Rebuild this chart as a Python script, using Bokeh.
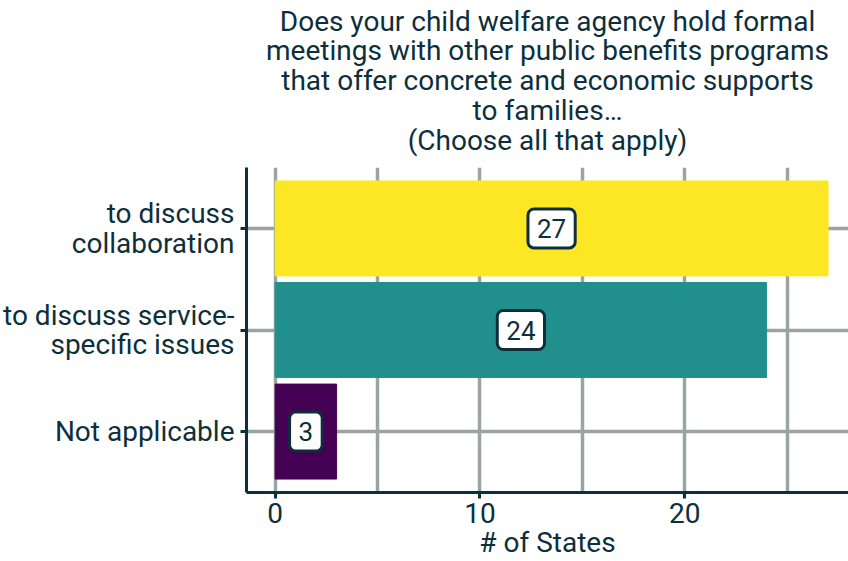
from bokeh.plotting import figure
from bokeh.layouts import column
from bokeh.models import ColumnDataSource, SingleIntervalTicker, Range1d, FactorRange
from bokeh.core.properties import value
from bokeh.embed import file_html
from bokeh.resources import INLINE

categories = ["Not applicable", "to discuss service-\nspecific issues", "to discuss\ncollaboration"]
counts = [3, 24, 27]
bar_colors = ["#440154", "#21908d", "#fde725"]
title_text = ("Does your child welfare agency hold formal\n"
              "meetings with other public benefits programs\n"
              "that offer concrete and economic supports\n"
              "to families…\n"
              "(Choose all that apply)")
x_label = "# of States"

DARK = "#0d2f3b"
GRID = "#9aa4a4"
FONT = "Roboto"
X_START, X_END = -1.4, 28.0
LEFT_PANEL = 246
TITLE_H = 167

x_range = Range1d(X_START, X_END)

# ---- title strip (a figure of its own so the lines can be centred) ----
t = figure(width=848, height=TITLE_H, x_range=x_range, y_range=Range1d(0, 1),
           output_backend="svg", toolbar_location=None, title_location=None,
           x_axis_location=None, y_axis_location=None,
           min_border_left=LEFT_PANEL, min_border_right=0, min_border_top=0, min_border_bottom=0)
t.grid.visible = False
t.outline_line_color = None
t.text(x=[(X_START + X_END) / 2], y=[0.52], text=[title_text],
       text_align="center", text_baseline="middle",
       text_font=value(FONT), text_font_size="28px", text_color=DARK,
       text_line_height=0.9)

# ---- main chart ----
src = ColumnDataSource(dict(
    cat=categories,
    val=counts,
    mid=[v / 2 for v in counts],
    txt=[str(v) for v in counts],
    color=bar_colors,
))

p = figure(
    width=848, height=561 - TITLE_H,
    y_range=FactorRange(factors=categories, range_padding=0.1, range_padding_units="absolute"),
    x_range=x_range,
    output_backend="svg", toolbar_location=None, title_location=None,
    min_border_left=0, min_border_right=0, min_border_top=0, min_border_bottom=0,
)

p.hbar(y="cat", left=0, right="val", height=0.935, color="color", source=src)

p.text(x="mid", y="cat", text="txt", source=src,
       text_align="center", text_baseline="middle",
       text_font=value(FONT), text_font_size="26px", text_color=DARK,
       background_fill_color="white", border_line_color=DARK, border_line_width=3,
       border_radius=6, padding=dict(left=9, right=9, top=10, bottom=10))

p.outline_line_color = None
p.background_fill_color = "white"

p.xaxis.ticker = SingleIntervalTicker(interval=10, num_minor_ticks=0)
p.xgrid.ticker = SingleIntervalTicker(interval=5, num_minor_ticks=0)
for g in (p.xgrid, p.ygrid):
    g.grid_line_color = GRID
    g.grid_line_width = 3.5

for ax in (p.xaxis, p.yaxis):
    ax.axis_line_color = DARK
    ax.axis_line_width = 3
    ax.major_tick_line_color = DARK
    ax.major_tick_line_width = 3
    ax.major_tick_out = 6
    ax.major_tick_in = 0
    ax.minor_tick_line_color = None
    ax.major_label_text_font = FONT
    ax.major_label_text_font_size = "28px"
    ax.major_label_text_color = DARK

p.yaxis.major_label_standoff = 6
p.yaxis.major_label_text_line_height = 0.9
p.xaxis.major_label_standoff = 4
p.xaxis.axis_label = x_label
p.xaxis.axis_label_text_font = FONT
p.xaxis.axis_label_text_font_style = "normal"
p.xaxis.axis_label_text_font_size = "28px"
p.xaxis.axis_label_text_color = DARK
p.xaxis.axis_label_standoff = 0

layout = column(t, p, spacing=0)
open("out.html", "w").write(file_html(layout, INLINE))
